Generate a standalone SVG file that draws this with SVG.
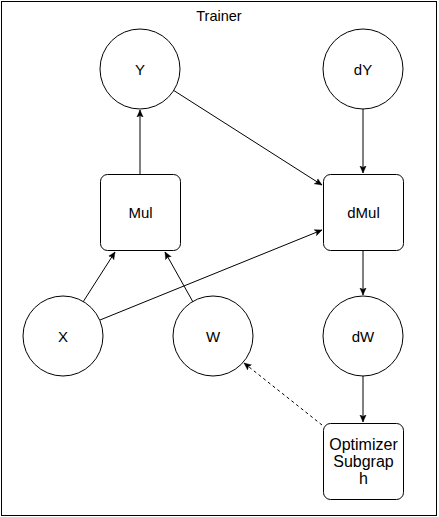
<svg xmlns="http://www.w3.org/2000/svg" width="439" height="517" viewBox="0 0 439 517">
<defs>
<style>
.n{fill:#fff;stroke:#000;stroke-width:1}
.t{font-family:"Liberation Sans",Arial,sans-serif;font-size:15px;fill:#000;text-anchor:middle}
.o{font-size:16px}
.e{stroke:#000;stroke-width:1;fill:none;marker-end:url(#a)}
.d{stroke-dasharray:3,3}
</style>
<marker id="a" viewBox="0 0 10 10" refX="9" refY="5" markerWidth="8" markerHeight="8" markerUnits="userSpaceOnUse" orient="auto">
<path d="M0,1 L9,5 L0,9 L2,5 Z" fill="#000" stroke="#000" stroke-width="0.5"/>
</marker>
</defs>
<rect width="439" height="517" fill="#fff"/>
<g id="trainer">
<rect x="1.5" y="1.5" width="435" height="514" fill="none" stroke="#000"/>
<text class="t" x="219" y="21" style="font-size:14.5px">Trainer</text>
</g>
<g id="edges">
<path class="e" d="M140,174 L140,110"/>
<path class="e" d="M173,90 L322,185"/>
<path class="e" d="M363,109 L363,173"/>
<path class="e" d="M83,302 L115,252"/>
<path class="e" d="M193,302 L165,252"/>
<path class="e" d="M100,320 L322,230"/>
<path class="e" d="M363,250 L363,295"/>
<path class="e" d="M363,376 L363,422"/>
<path class="e d" d="M322,425 L244,363"/>
</g>
<g id="Y"><circle class="n" cx="140" cy="69" r="40"/><text class="t" x="140" y="75">Y</text></g>
<g id="dY"><circle class="n" cx="363" cy="69" r="40"/><text class="t" x="363" y="75">dY</text></g>
<g id="Mul"><rect class="n" x="100.5" y="174.5" width="80" height="76" rx="7"/><text class="t" x="140.5" y="218">Mul</text></g>
<g id="dMul"><rect class="n" x="323.5" y="174.5" width="80" height="76" rx="7"/><text class="t" x="363.5" y="218">dMul</text></g>
<g id="X"><circle class="n" cx="63" cy="336" r="40"/><text class="t" x="63" y="342">X</text></g>
<g id="W"><circle class="n" cx="213" cy="336" r="40"/><text class="t" x="213" y="342">W</text></g>
<g id="dW"><circle class="n" cx="363" cy="336" r="40"/><text class="t" x="363" y="342">dW</text></g>
<g id="Optimizer"><rect class="n" x="323.5" y="423.5" width="80" height="76" rx="7"/>
<text class="t o" x="363.5" y="450">Optimizer</text>
<text class="t o" x="363.5" y="467">Subgrap</text>
<text class="t o" x="363.5" y="484">h</text></g>
</svg>
